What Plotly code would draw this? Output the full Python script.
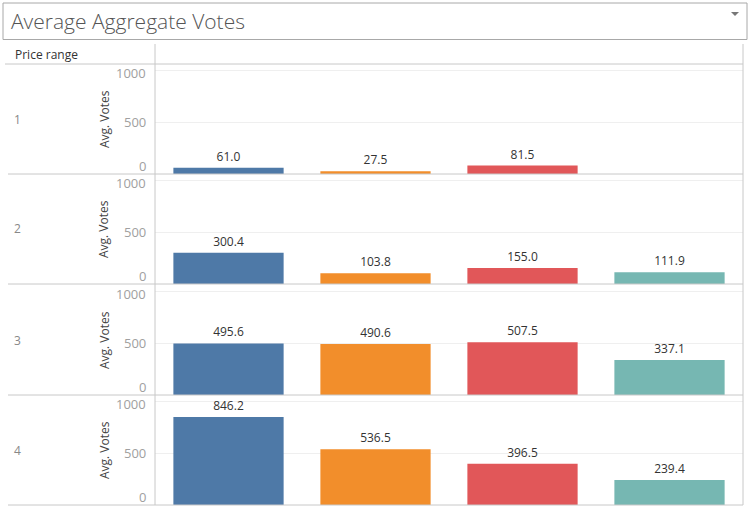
import plotly.graph_objects as go

# ---- data ----
price_ranges = ["1", "2", "3", "4"]
columns = ["Col A", "Col B", "Col C", "Col D"]
col_a = [61.0, 300.4, 495.6, 846.2]
col_b = [27.5, 103.8, 490.6, 536.5]
col_c = [81.5, 155.0, 507.5, 396.5]
col_d = [None, 111.9, 337.1, 239.4]
tick_vals = [0, 500, 1000]
tick_text = ["0", "500", "1000"]

colors = ["#4e79a7", "#f28e2b", "#e15759", "#76b7b2"]
series = [col_a, col_b, col_c, col_d]

W, H = 752, 514
def px(x):
    return x / W
def py(y):
    return 1 - y / H

FONT = "Open Sans"
x_left, x_right = 155, 743
row_tops = [64, 174, 285, 395]
row_bottoms = [174, 284, 395, 505]
y_max = 1058

fig = go.Figure()
layout = dict(
    width=W, height=H,
    margin=dict(l=0, r=0, t=0, b=0),
    paper_bgcolor="white", plot_bgcolor="white",
    showlegend=False,
    font=dict(family=FONT, size=12, color="#333333"),
    bargap=0.25,
)
annotations = []
shapes = []

for r, pr in enumerate(price_ranges):
    n = "" if r == 0 else str(r + 1)
    yvals = [s[r] for s in series]
    fig.add_trace(go.Bar(
        x=columns, y=yvals,
        marker=dict(color=colors, line=dict(width=0)),
        text=[None if v is None else f"{v:.1f}" for v in yvals],
        textposition="outside",
        textfont=dict(family=FONT, size=12, color="#333333"),
        cliponaxis=False,
        xaxis="x" + n, yaxis="y" + n,
    ))
    layout["xaxis" + n] = dict(
        domain=[px(x_left), px(x_right)], anchor="y" + n,
        showticklabels=False, showgrid=False, zeroline=False,
        showline=False, ticks="", range=[-0.5, 3.5],
    )
    layout["yaxis" + n] = dict(
        domain=[py(row_bottoms[r]), py(row_tops[r])], anchor="x" + n,
        range=[0, y_max], tickvals=[500, 1000], showticklabels=False,
        showgrid=True, gridcolor="#efefef", gridwidth=1,
        zeroline=False, showline=False, ticks="",
    )
    # tick labels
    for tv, tt in zip(tick_vals, tick_text):
        shift = 8 if tv == 0 else (-3 if tv == 1000 else 0)
        annotations.append(dict(
            x=px(148), xref="paper", xanchor="right",
            y=tv, yref="y" + n, yanchor="middle", yshift=shift,
            text=tt, showarrow=False,
            font=dict(family=FONT, size=13, color="#a0a0a0"),
        ))
    mid = (row_tops[r] + row_bottoms[r]) / 2
    annotations.append(dict(
        x=px(104), y=py(mid), xref="paper", yref="paper",
        text="Avg. Votes", textangle=-90, showarrow=False,
        xanchor="center", yanchor="middle",
        font=dict(family=FONT, size=12, color="#444444"),
    ))
    annotations.append(dict(
        x=px(12), y=py(mid), xref="paper", yref="paper",
        text=pr, showarrow=False, xanchor="left", yanchor="middle",
        font=dict(family=FONT, size=12, color="#888888"),
    ))
    # row baseline
    shapes.append(dict(type="line", xref="paper", yref="paper",
                       x0=px(8), x1=px(x_right), y0=py(row_bottoms[r]), y1=py(row_bottoms[r]),
                       line=dict(color="#c8c8c8", width=1)))

# title box
shapes.append(dict(type="rect", xref="paper", yref="paper",
                   x0=px(3), x1=px(747), y0=py(39.5), y1=py(3),
                   line=dict(color="#a8a8a8", width=1), fillcolor="white", layer="below"))
shapes.append(dict(type="path", xref="paper", yref="paper",
                   path=f"M {px(731)} {py(12)} L {px(739)} {py(12)} L {px(735)} {py(16)} Z",
                   fillcolor="#777777", line=dict(width=0)))
# header line
shapes.append(dict(type="line", xref="paper", yref="paper",
                   x0=px(5), x1=px(x_right), y0=py(64), y1=py(64),
                   line=dict(color="#c8c8c8", width=1)))
# vertical separators
shapes.append(dict(type="line", xref="paper", yref="paper",
                   x0=px(x_left), x1=px(x_left), y0=py(44), y1=py(505),
                   line=dict(color="#c8c8c8", width=1)))
shapes.append(dict(type="line", xref="paper", yref="paper",
                   x0=px(x_right), x1=px(x_right), y0=py(44), y1=py(505),
                   line=dict(color="#c8c8c8", width=1)))

annotations.append(dict(
    x=px(9), y=py(21.5), xref="paper", yref="paper",
    text="Average Aggregate Votes", showarrow=False,
    xanchor="left", yanchor="middle",
    font=dict(family=FONT, size=21, color="#555555", weight=300),
))
annotations.append(dict(
    x=px(13), y=py(55), xref="paper", yref="paper",
    text="Price range", showarrow=False,
    xanchor="left", yanchor="middle",
    font=dict(family=FONT, size=12, color="#333333"),
))

layout["annotations"] = annotations
layout["shapes"] = shapes
fig.update_layout(**layout)
fig.write_html("out.html", config={"displayModeBar": False},
               post_script="document.body.style.margin='0';document.body.style.padding='0';")
